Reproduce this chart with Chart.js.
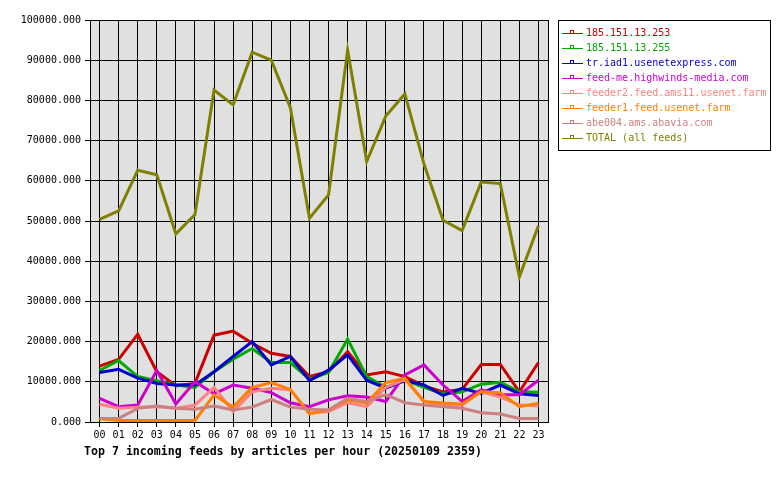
<!DOCTYPE html>
<html>
<head>
<meta charset="utf-8">
<script src="https://cdn.jsdelivr.net/npm/chart.js@4"></script>
<style>
  html, body { margin: 0; padding: 0; background: #fff; }
  #wrap { width: 780px; height: 480px; }
</style>
</head>
<body>
<div id="wrap"><canvas id="chart" width="780" height="480"></canvas></div>
<script>
const hours = ['00','01','02','03','04','05','06','07','08','09','10','11',
               '12','13','14','15','16','17','18','19','20','21','22','23'];

const feedNames = [
    '185.151.13.253',
    '185.151.13.255',
    'tr.iad1.usenetexpress.com',
    'feed-me.highwinds-media.com',
    'feeder2.feed.ams11.usenet.farm',
    'feeder1.feed.usenet.farm',
    'abe004.ams.abavia.com',
    'TOTAL (all feeds)'
];
const feedColors = ['#cc0000', '#00aa00', '#0000cc', '#cc00cc', '#ff8080', '#ff8000', '#cc8080', '#808000'];

const feed253 = [13900, 15600, 21800, 12500, 9000, 9600, 21600, 22600, 19600, 17100, 16300, 11300,
                 12500, 17500, 11700, 12500, 11300, 9000, 7500, 8100, 14300, 14300, 7500, 14800];
const feed255 = [12800, 15300, 11300, 10300, 9200, 8600, 12500, 15600, 18300, 14800, 14800, 10600,
                 12300, 20600, 11300, 8600, 10400, 8600, 7000, 7500, 9400, 9900, 7500, 7400];
const usenetexpress = [12300, 13100, 10900, 9600, 9200, 9200, 12500, 16300, 20000, 14200, 16300, 10300,
                       12900, 16700, 10400, 8400, 10300, 9200, 6600, 8400, 7100, 9200, 7000, 6600];
const highwinds = [5900, 3800, 4200, 12800, 4500, 10000, 7000, 9200, 8400, 7300, 4800, 3800,
                   5500, 6500, 6200, 5100, 11700, 14200, 9200, 5100, 8000, 6800, 6800, 10400];
const feeder2 = [4400, 3400, 3700, 3800, 3400, 4200, 8600, 2600, 7500, 8400, 8000, 2200,
                 2600, 4800, 3800, 8600, 10600, 5100, 4200, 4200, 7500, 6200, 4200, 4000];
const feeder1 = [800, 400, 400, 400, 400, 400, 6700, 3700, 8600, 9800, 8100, 2000,
                 3000, 5500, 4700, 9800, 10900, 5100, 4700, 4500, 7500, 7300, 3800, 4700];
const abavia = [900, 900, 3400, 4000, 3400, 3200, 4000, 3000, 3700, 5600, 3700, 3200,
                3000, 5900, 5100, 6800, 4800, 4200, 3800, 3400, 2300, 2000, 900, 900];
const totalFeeds = [50400, 52500, 62600, 61500, 46800, 51600, 82600, 78900, 92000, 90000, 78200, 50700,
                    56500, 92500, 64800, 76100, 81600, 64200, 50200, 47600, 59700, 59300, 36100, 48800];

const yTicks = [0, 10000, 20000, 30000, 40000, 50000, 60000, 70000, 80000, 90000, 100000];
const chartTitle = 'Top 7 incoming feeds by articles per hour (20250109 2359)';

const seriesValues = [feed253, feed255, usenetexpress, highwinds, feeder2, feeder1, abavia, totalFeeds];
const mono = '"DejaVu Sans Mono", monospace';

// gray plot background, frame, legend box and title under the axis
const framePlugin = {
    id: 'frame',
    beforeDraw(chart) {
        const ctx = chart.ctx;
        const a = chart.chartArea;
        ctx.save();
        ctx.fillStyle = '#ffffff';
        ctx.fillRect(0, 0, chart.width, chart.height);
        ctx.fillStyle = '#e0e0e0';
        ctx.fillRect(a.left, a.top, a.right - a.left, a.bottom - a.top);
        ctx.restore();
    },
    afterDraw(chart) {
        const ctx = chart.ctx;
        const a = chart.chartArea;
        ctx.save();
        ctx.strokeStyle = '#000';
        ctx.lineWidth = 1;
        ctx.strokeRect(Math.round(a.left) + 0.5, Math.round(a.top) + 0.5,
                       Math.round(a.right - a.left), Math.round(a.bottom - a.top));

        // legend
        ctx.fillStyle = '#fff';
        ctx.fillRect(558.5, 20.5, 212, 130);
        ctx.strokeRect(558.5, 20.5, 212, 130);
        ctx.font = '10px ' + mono;
        ctx.textBaseline = 'middle';
        ctx.textAlign = 'left';
        chart.data.datasets.forEach((ds, i) => {
            const y = 33 + i * 15;
            ctx.strokeStyle = ds.borderColor;
            ctx.beginPath();
            ctx.moveTo(562, y + 0.5);
            ctx.lineTo(583, y + 0.5);
            ctx.stroke();
            ctx.strokeRect(570.5, y - 2.5, 3, 3);
            ctx.fillStyle = ds.borderColor;
            ctx.fillText(ds.label, 586, y);
        });

        ctx.fillStyle = '#000';
        ctx.font = 'bold 11.6px ' + mono;
        ctx.fillText(chartTitle, 84, 452);
        ctx.restore();
    }
};

const datasets = feedNames.map((name, i) => ({
    label: name,
    data: seriesValues[i],
    borderColor: feedColors[i],
    backgroundColor: feedColors[i],
    borderWidth: 3,
    pointRadius: 0,
    tension: 0,
    order: feedNames.length - i
}));

new Chart(document.getElementById('chart'), {
    type: 'line',
    data: { labels: hours, datasets },
    options: {
        responsive: false,
        animation: false,
        layout: { padding: { left: 0, top: 20, right: 232, bottom: 28 } },
        plugins: {
            legend: { display: false },
            title: { display: false },
            tooltip: { enabled: false }
        },
        scales: {
            x: {
                type: 'category',
                offset: true,
                afterFit(scale) { scale.height = 30; },
                grid: {
                    offset: false,
                    color: '#000',
                    tickColor: '#000',
                    tickLength: 5,
                    lineWidth: 1
                },
                border: { color: '#000' },
                ticks: {
                    color: '#000',
                    font: { family: mono, size: 10 },
                    maxRotation: 0,
                    autoSkip: false,
                    padding: 2
                }
            },
            y: {
                min: yTicks[0],
                max: yTicks[yTicks.length - 1],
                afterFit(scale) { scale.width = 90; },
                afterBuildTicks(scale) { scale.ticks = yTicks.map(v => ({ value: v })); },
                grid: {
                    color: '#000',
                    tickColor: '#000',
                    tickLength: 5,
                    lineWidth: 1
                },
                border: { color: '#000' },
                ticks: {
                    color: '#000',
                    font: { family: mono, size: 10 },
                    padding: 4,
                    callback: v => Number(v).toFixed(3)
                }
            }
        }
    },
    plugins: [framePlugin]
});
</script>
</body>
</html>
